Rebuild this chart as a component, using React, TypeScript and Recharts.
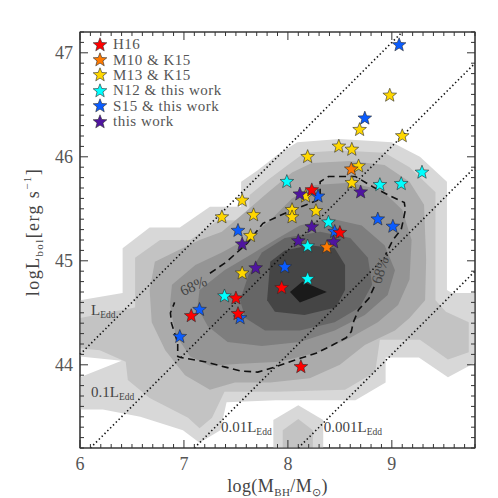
import React from 'react';
import {
  ScatterChart,
  Scatter,
  XAxis,
  YAxis,
  ReferenceDot,
  Legend,
} from 'recharts';

type Pt = [number, number];

// stars: [log(M_BH/Msun), log L_bol]
const h16: Pt[] = [
  [8.23, 45.68], [8.5, 45.27], [7.94, 44.74], [7.5, 44.64],
  [7.07, 44.47], [7.52, 44.49], [8.125, 43.98],
];
const m10: Pt[] = [[8.61, 45.88], [8.375, 45.13]];
const m13: Pt[] = [
  [8.98, 46.59], [8.69, 46.26], [9.1, 46.2], [8.49, 46.1], [8.615, 46.07],
  [8.19, 46.0], [8.68, 45.91], [8.615, 45.75], [7.56, 45.58], [7.365, 45.42],
  [7.67, 45.44], [7.64, 45.24], [8.04, 45.49], [8.04, 45.42], [8.27, 45.48],
  [7.56, 44.88], [8.17, 45.62],
];
const n12: Pt[] = [
  [9.29, 45.85], [7.99, 45.76], [8.885, 45.73], [9.09, 45.74],
  [8.39, 45.37], [8.19, 45.14], [8.19, 44.825], [7.39, 44.66],
];
const s15: Pt[] = [
  [9.07, 47.075], [8.74, 46.37], [8.29, 45.62], [8.865, 45.4], [9.01, 45.33],
  [7.52, 45.29], [8.45, 45.28], [7.97, 44.94], [7.15, 44.53], [7.54, 44.45],
  [6.96, 44.27],
];
const thisWork: Pt[] = [
  [8.7, 45.66], [8.115, 45.64], [8.23, 45.325], [8.44, 45.18],
  [8.1, 45.19], [7.56, 45.16], [7.69, 44.93],
];

// filled density contours, outermost (lightest) first
const level1: Pt[] = [
  [6.0, 44.62], [6.41, 44.69], [6.41, 45.12], [6.67, 45.32], [6.96, 45.32],
  [7.25, 45.52], [7.55, 45.52], [7.55, 45.76], [7.71, 45.87], [7.9, 46.02],
  [8.09, 46.14], [8.5, 46.17], [9.0, 46.14], [9.27, 46.0], [9.53, 45.76],
  [9.53, 44.72], [9.58, 44.69], [9.8, 44.69], [9.8, 44.02], [9.54, 43.88],
  [9.26, 44.07], [8.94, 44.07], [8.94, 43.83], [8.65, 43.66], [7.885, 43.66],
  [7.41, 43.64], [7.35, 43.37], [7.15, 43.25], [6.99, 43.37], [6.58, 43.5],
  [6.22, 43.57], [6.0, 43.57], [6.0, 43.88], [6.4, 44.04], [6.0, 44.08],
];
const level2: Pt[] = [
  [6.0, 44.45], [6.53, 44.55], [6.53, 45.03], [6.77, 45.2], [7.06, 45.2],
  [7.33, 45.39], [7.63, 45.39], [7.63, 45.63], [7.81, 45.78], [8.0, 45.92],
  [8.16, 46.04], [8.5, 46.06], [8.93, 46.04], [9.17, 45.9], [9.42, 45.66],
  [9.42, 44.62], [9.52, 44.51], [9.74, 44.41], [9.74, 44.12], [9.54, 44.05],
  [9.27, 44.24], [8.885, 44.24], [8.84, 43.93], [8.55, 43.76], [7.885, 43.74],
  [7.39, 43.74], [7.27, 43.49], [7.15, 43.39], [7.04, 43.49], [6.67, 43.68],
  [6.46, 43.855], [6.44, 44.03], [6.19, 44.14], [6.0, 44.16],
];
const level3: Pt[] = [
  [6.72, 44.99], [6.94, 45.1], [7.15, 45.2], [7.365, 45.28], [7.59, 45.47],
  [7.81, 45.66], [8.04, 45.85], [8.23, 45.94], [8.6, 45.96], [8.93, 45.92],
  [9.17, 45.76], [9.31, 45.54], [9.33, 45.01], [9.32, 44.62], [9.17, 44.45],
  [9.03, 44.33], [8.74, 44.19], [8.5, 44.0], [8.21, 43.87], [7.83, 43.83],
  [7.49, 43.83], [7.25, 43.76], [7.01, 43.9], [6.82, 44.14], [6.69, 44.41],
  [6.67, 44.72],
];
const level4: Pt[] = [
  [6.885, 44.77], [7.11, 44.96], [7.365, 45.08], [7.62, 45.22], [7.83, 45.39],
  [8.04, 45.6], [8.26, 45.73], [8.6, 45.75], [8.9, 45.68], [9.1, 45.49],
  [9.19, 45.2], [9.17, 44.82], [9.06, 44.575], [8.865, 44.41], [8.6, 44.26],
  [8.29, 44.12], [7.92, 44.03], [7.54, 44.01], [7.25, 43.99], [7.06, 44.08],
  [6.92, 44.29], [6.865, 44.575],
];
const level5: Pt[] = [
  [7.15, 44.72], [7.39, 44.91], [7.63, 45.05], [7.875, 45.2], [8.115, 45.34],
  [8.4, 45.41], [8.71, 45.34], [8.93, 45.15], [9.03, 44.91], [8.96, 44.67],
  [8.74, 44.48], [8.45, 44.33], [8.115, 44.22], [7.75, 44.18], [7.42, 44.22],
  [7.23, 44.37], [7.13, 44.55],
];
const level6: Pt[] = [
  [7.54, 44.62], [7.62, 44.86], [7.75, 45.08], [7.97, 45.22], [8.31, 45.28],
  [8.6, 45.22], [8.77, 45.03], [8.81, 44.77], [8.69, 44.55], [8.45, 44.41],
  [8.115, 44.33], [7.78, 44.33], [7.59, 44.45],
];
const level7: Pt[] = [
  [7.8, 44.62], [7.83, 44.99], [7.97, 45.1], [8.21, 45.15], [8.45, 45.12],
  [8.55, 44.96], [8.55, 44.72], [8.46, 44.55], [8.16, 44.48], [7.875, 44.51],
];
const level8: Pt[] = [[8.02, 44.7], [8.14, 44.8], [8.375, 44.7], [8.115, 44.6]];
const bump1: Pt[] = [[7.86, 43.2], [7.86, 43.47], [8.1, 43.61], [8.34, 43.47], [8.34, 43.2]];
const bump2: Pt[] = [[7.95, 43.2], [7.95, 43.37], [8.1, 43.48], [8.24, 43.37], [8.24, 43.2]];

// 68% contour, split where the labels sit
const dashA: Pt[] = [
  [7.25, 44.88], [7.41, 44.99], [7.61, 45.17], [7.76, 45.36], [7.89, 45.42],
  [8.05, 45.49], [8.28, 45.58], [8.31, 45.61], [8.31, 45.76], [8.39, 45.81],
  [8.65, 45.81], [8.82, 45.71], [8.97, 45.63], [9.12, 45.56], [9.13, 45.49],
  [9.11, 45.39], [9.09, 45.3], [9.01, 45.2], [8.94, 45.06],
];
const dashB: Pt[] = [
  [8.83, 44.75], [8.78, 44.64], [8.68, 44.53], [8.63, 44.41], [8.61, 44.32],
  [8.56, 44.26], [8.43, 44.19], [8.27, 44.11], [8.08, 44.05], [7.88, 43.98],
  [7.71, 43.93], [7.55, 43.94], [7.39, 43.98], [7.2, 44.03], [6.97, 44.07],
  [6.94, 44.08], [6.94, 44.21], [6.88, 44.4], [6.87, 44.5], [6.91, 44.6],
];

// Eddington ratio lines (L_Edd, 0.1, 0.01, 0.001) and their labels
const eddLines: Pt[][] = [
  [[6.0, 44.1], [9.1, 47.2]],
  [[6.1, 43.2], [9.8, 46.9]],
  [[7.1, 43.2], [9.8, 45.9]],
  [[8.1, 43.2], [9.8, 44.9]],
];
const eddLabels: { at: Pt; prefix: string }[] = [
  { at: [6.106, 44.48], prefix: '' },
  { at: [6.106, 43.69], prefix: '0.1' },
  { at: [7.356, 43.35], prefix: '0.01' },
  { at: [8.346, 43.35], prefix: '0.001' },
];
const pctLabels: { at: Pt; rot: number }[] = [
  { at: [7.09, 44.76], rot: -25 },
  { at: [8.885, 44.91], rot: -72 },
];

// plot box corners (axis ranges)
const xRange: [number, number] = [6, 9.8];
const yRange: [number, number] = [43.2, 47.2];
const frame: Pt[] = [
  [xRange[0], yRange[0]], [xRange[1], yRange[0]], [xRange[1], yRange[1]], [xRange[0], yRange[1]],
];

const xMajor = [6, 7, 8, 9];
const yMajor = [44, 45, 46, 47];
const xTicks = Array.from({ length: 39 }, (_, i) => Math.round((6 + i * 0.1) * 10) / 10);
const yTicks = Array.from({ length: 41 }, (_, i) => Math.round((43.2 + i * 0.1) * 10) / 10);

const groups = [
  { name: 'H16', color: '#ff0000', data: h16 },
  { name: 'M10 & K15', color: '#ff7a00', data: m10 },
  { name: 'M13 & K15', color: '#ffd700', data: m13 },
  { name: 'N12 & this work', color: '#00ffff', data: n12 },
  { name: 'S15 & this work', color: '#0a5cff', data: s15 },
  { name: 'this work', color: '#4f14a0', data: thisWork },
];
// stacking order of the stars
const drawOrder = ['M13 & K15', 'S15 & this work', 'this work', 'N12 & this work', 'M10 & K15', 'H16'];

const contours = [
  { data: level1, fill: '#d8d8d8' },
  { data: bump1, fill: '#d8d8d8' },
  { data: level2, fill: '#c3c3c3' },
  { data: bump2, fill: '#c3c3c3' },
  { data: level3, fill: '#ababab' },
  { data: level4, fill: '#959595' },
  { data: level5, fill: '#7e7e7e' },
  { data: level6, fill: '#666666' },
  { data: level7, fill: '#454545' },
  { data: level8, fill: '#1a1a1a' },
];

const SERIF = '"Liberation Serif", "Times New Roman", serif';
const toXY = (pts: Pt[]) => pts.map(([x, y]) => ({ x, y }));

const Empty = () => <g />;

const StarMark = ({ cx, cy, fill }: { cx: number; cy: number; fill: string }) => {
  const pts: string[] = [];
  for (let i = 0; i < 10; i++) {
    const rad = i % 2 === 0 ? 7.2 : 3.1;
    const a = -Math.PI / 2 + (i * Math.PI) / 5;
    pts.push(`${cx + rad * Math.cos(a)},${cy + rad * Math.sin(a)}`);
  }
  return <polygon points={pts.join(' ')} fill={fill} stroke="#2a2a2a" strokeWidth={0.6} />;
};

const pathOf = (p: any, close: boolean) => {
  const pts = p.points || [];
  return pts.map((q: any, i: number) => `${i ? 'L' : 'M'}${q.x},${q.y}`).join(' ') + (close ? ' Z' : '');
};

const fillPolygon = (fill: string) => (p: any) => <path d={pathOf(p, true)} fill={fill} stroke="none" />;

const dashedPath = (p: any) => (
  <path d={pathOf(p, false)} fill="none" stroke="#111" strokeWidth={1.6} strokeDasharray="7 4.5" />
);

const dottedPath = (p: any) => (
  <path d={pathOf(p, false)} fill="none" stroke="#111" strokeWidth={1.6} strokeDasharray="1.4 2.6" />
);

const framePath = (p: any) => (
  <path d={pathOf(p, true)} fill="none" stroke="#3a3a3a" strokeWidth={1.2} />
);

const AxisTick = (props: any) => {
  const { x, y, payload, side } = props;
  const v = payload.value;
  const major = Math.abs(v - Math.round(v)) < 1e-6;
  const len = major ? 8 : 4;
  const st = { stroke: '#333', strokeWidth: 1 };
  if (side === 'bottom') {
    return (
      <g>
        <line x1={x} y1={y} x2={x} y2={y - len} {...st} />
        {major && xMajor.includes(Math.round(v)) && (
          <text x={x} y={y + 22} textAnchor="middle" fontFamily={SERIF} fontSize={18} fill="#555">
            {Math.round(v)}
          </text>
        )}
      </g>
    );
  }
  if (side === 'top') return <line x1={x} y1={y} x2={x} y2={y + len} {...st} />;
  if (side === 'left') {
    return (
      <g>
        <line x1={x} y1={y} x2={x + len} y2={y} {...st} />
        {major && yMajor.includes(Math.round(v)) && (
          <text x={x - 7} y={y} dy="0.35em" textAnchor="end" fontFamily={SERIF} fontSize={18} fill="#555">
            {Math.round(v)}
          </text>
        )}
      </g>
    );
  }
  return <line x1={x} y1={y} x2={x - len} y2={y} {...st} />;
};

const XTitle = (props: any) => {
  const vb = props.viewBox || { x: 80, y: 448, width: 395 };
  return (
    <text x={vb.x + vb.width / 2} y={vb.y + 44} textAnchor="middle" fontFamily={SERIF} fontSize={18} fill="#444" letterSpacing={0.4}>
      log(M<tspan fontSize={11} dy={4}>BH</tspan>
      <tspan dy={-4}>/M</tspan>
      <tspan fontSize={11} dy={4}>⊙</tspan>
      <tspan dy={-4}>)</tspan>
    </text>
  );
};

const YTitle = (props: any) => {
  const vb = props.viewBox || { x: 0, y: 32 };
  const x = vb.x + 39;
  const y = vb.y + 200;
  return (
    <text x={x} y={y} transform={`rotate(-90, ${x}, ${y})`} textAnchor="middle" fontFamily={SERIF} fontSize={18} fill="#444" letterSpacing={1.4}>
      logL<tspan fontSize={11} dy={4}>bol</tspan>
      <tspan dy={-4}>[erg s</tspan>
      <tspan fontSize={11} dy={-8}>−1</tspan>
      <tspan dy={8}>]</tspan>
    </text>
  );
};

const EddLabel = (props: any) => {
  const { viewBox, prefix } = props;
  return (
    <text x={viewBox.x} y={viewBox.y} fontFamily={SERIF} fontSize={15} fill="#444">
      {prefix}L<tspan fontSize={9.5} dy={3}>Edd</tspan>
    </text>
  );
};

const PctLabel = (props: any) => {
  const { viewBox, rot } = props;
  const x = viewBox.x;
  const y = viewBox.y;
  return (
    <g transform={`translate(${x}, ${y}) rotate(${rot})`}>
      <text x={0} y={0} dy="0.35em" textAnchor="middle" fontFamily={SERIF} fontSize={15} fill="#444">
        68%
      </text>
    </g>
  );
};

const LegendBox = () => (
  <div style={{ fontFamily: SERIF, fontSize: 15, color: '#555', letterSpacing: 0.5 }}>
    {groups.map((g) => (
      <div key={g.name} style={{ display: 'flex', alignItems: 'center', height: 15.4 }}>
        <svg width={16} height={16} style={{ display: 'block' }}>
          <StarMark cx={8} cy={8} fill={g.color} />
        </svg>
        <span style={{ marginLeft: 5, whiteSpace: 'pre', lineHeight: '15px' }}>{g.name}</span>
      </div>
    ))}
  </div>
);

export default function App() {
  return (
    <div style={{ position: 'absolute', left: 0, top: 0, width: 498, height: 498, background: '#fff' }}>
      <ScatterChart width={498} height={498} margin={{ top: 0, right: 0, bottom: 0, left: 0 }}>
        {contours.map((c, i) => (
          <Scatter
            key={`c${i}`}
            data={toXY(c.data)}
            line={fillPolygon(c.fill)}
            shape={Empty}
            legendType="none"
            isAnimationActive={false}
          />
        ))}
        <Scatter data={toXY(dashA)} line={dashedPath} shape={Empty} legendType="none" isAnimationActive={false} />
        <Scatter data={toXY(dashB)} line={dashedPath} shape={Empty} legendType="none" isAnimationActive={false} />

        {/* Eddington lines ride the mirrored top/right axes (same domains) */}
        {eddLines.map((l, i) => (
          <Scatter
            key={`e${i}`}
            xAxisId="top"
            yAxisId="right"
            data={toXY(l)}
            line={dottedPath}
            shape={Empty}
            legendType="none"
            isAnimationActive={false}
          />
        ))}
        <Scatter data={toXY(frame)} line={framePath} shape={Empty} legendType="none" isAnimationActive={false} />
        {eddLabels.map((l, i) => (
          <ReferenceDot key={`el${i}`} x={l.at[0]} y={l.at[1]} r={0} fill="none" stroke="none" label={<EddLabel prefix={l.prefix} />} />
        ))}
        {pctLabels.map((l, i) => (
          <ReferenceDot key={`pl${i}`} x={l.at[0]} y={l.at[1]} r={0} fill="none" stroke="none" label={<PctLabel rot={l.rot} />} />
        ))}

        {drawOrder.map((name) => {
          const g = groups.find((q) => q.name === name)!;
          return (
            <Scatter
              key={name}
              name={name}
              data={toXY(g.data)}
              fill={g.color}
              shape={(p: any) => <StarMark cx={p.cx} cy={p.cy} fill={g.color} />}
              isAnimationActive={false}
            />
          );
        })}

        <XAxis
          type="number"
          dataKey="x"
          domain={xRange}
          ticks={xTicks}
          interval={0}
          tickSize={0}
          tickMargin={0}
          tickLine={false}
          tick={<AxisTick side="bottom" />}
          axisLine={{ stroke: '#333' }}
          height={50}
          label={<XTitle />}
        />
        <XAxis
          xAxisId="top"
          orientation="top"
          type="number"
          dataKey="x"
          domain={xRange}
          ticks={xTicks}
          interval={0}
          tickSize={0}
          tickMargin={0}
          tickLine={false}
          tick={<AxisTick side="top" />}
          axisLine={{ stroke: '#333' }}
          height={32}
        />
        <YAxis
          type="number"
          dataKey="y"
          domain={yRange}
          ticks={yTicks}
          interval={0}
          tickSize={0}
          tickMargin={0}
          tickLine={false}
          tick={<AxisTick side="left" />}
          axisLine={{ stroke: '#333' }}
          width={80}
          label={<YTitle />}
        />
        <YAxis
          yAxisId="right"
          orientation="right"
          type="number"
          dataKey="y"
          domain={yRange}
          ticks={yTicks}
          interval={0}
          tickSize={0}
          tickMargin={0}
          tickLine={false}
          tick={<AxisTick side="right" />}
          axisLine={{ stroke: '#333' }}
          width={23}
        />
        <Legend
          layout="vertical"
          align="center"
          verticalAlign="middle"
          content={<LegendBox />}
          wrapperStyle={{ left: 92, top: 37, width: 'auto', height: 'auto' }}
        />
      </ScatterChart>
    </div>
  );
}
